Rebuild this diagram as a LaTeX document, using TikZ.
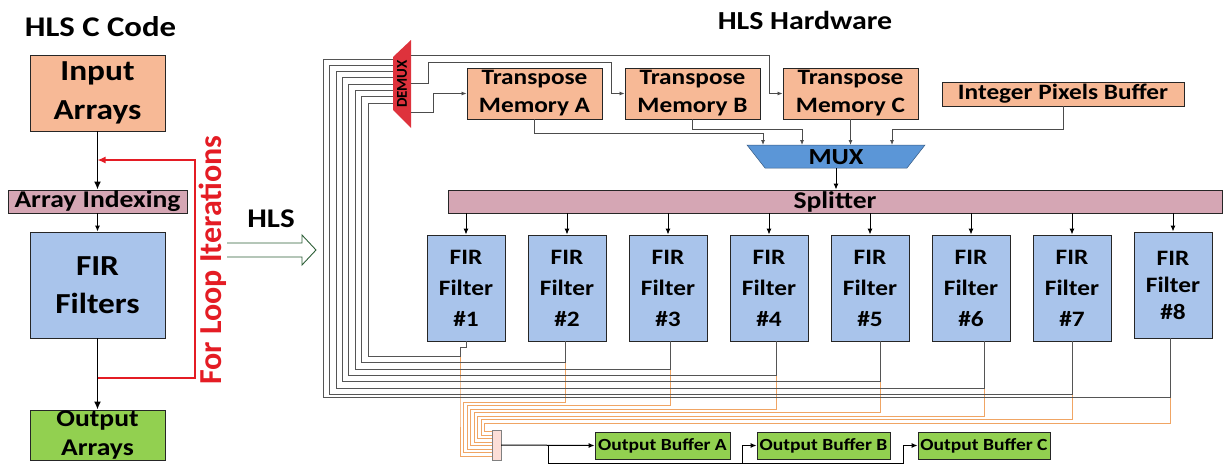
\documentclass[tikz,border=0pt]{standalone}
\usepackage{fontspec}
\setmainfont{Carlito}[FakeStretch=1.15]
\newfontfamily\rotfont{Carlito}
\usetikzlibrary{arrows.meta, calc}
\definecolor{inputc}{RGB}{247,185,150}
\definecolor{indexc}{RGB}{213,166,180}
\definecolor{firc}{RGB}{169,196,235}
\definecolor{outc}{RGB}{146,208,80}
\definecolor{loopred}{RGB}{228,28,36}
\definecolor{hlsgreen}{RGB}{45,95,55}
\definecolor{demuxc}{RGB}{222,50,60}
\definecolor{muxc}{RGB}{91,150,215}
\definecolor{orangeline}{RGB}{240,165,100}
\definecolor{fbgray}{RGB}{85,85,85}
\definecolor{collc}{RGB}{252,222,215}
\newcommand{\fsz}[2]{\fontsize{#1}{#2}\selectfont\bfseries}

\begin{document}
\begin{tikzpicture}[x=1pt, y=-1pt,
    box/.style={draw=black!85, line width=0.9pt, inner sep=0pt, align=center},
    title/.style={font=\fsz{28.5}{30}},
    conn/.style={line width=1.6pt, -{Latex[length=8pt,width=7pt]}},
    smallconn/.style={line width=1pt, -{Latex[length=6pt,width=5pt]}},
    thinconn/.style={line width=0.8pt, draw=black!70, -{Latex[length=5pt,width=4pt]}},
    fbline/.style={line width=0.8pt, draw=fbgray},
    outline/.style={line width=0.8pt, draw=orangeline},
  ]
  \useasboundingbox (0,0) rectangle (1227,466);

  % HLS C code
  \node[title] (ctitle) at (100.5,27) {HLS C Code};
  \node[box, fill=inputc, minimum width=135pt, minimum height=76pt, font=\fsz{29}{39}] (inarr) at (97.5,93) {Input\\Arrays};
  \node[box, fill=indexc, minimum width=179pt, minimum height=23pt, font=\fsz{24}{25}] (aidx) at (97.5,201.5) {Array Indexing};
  \node[box, fill=firc, minimum width=135pt, minimum height=106pt, font=\fsz{29}{38}] (firl) at (97.5,285) {FIR\\Filters};
  \node[box, fill=outc, minimum width=135pt, minimum height=50pt, font=\fsz{24}{29}] (outarr) at (97.5,435) {Output\\Arrays};
  \draw[conn] (inarr.south) -- (aidx.north);
  \draw[smallconn] (aidx.south) -- (firl.north);
  \draw[conn] (firl.south) -- (outarr.north);

  % loop
  \coordinate (lpb) at (195,378);
  \coordinate (lpt) at (195,160);
  \draw[loopred, line width=1.4pt, -{Latex[length=8pt,width=7pt]}] (firl.south |- lpb) -- (lpb) -- (lpt) -- (inarr.south |- lpt);
  \node[rotate=90, text=loopred, font=\rotfont\fsz{32}{34}] (looptxt) at (213,260) {For Loop Iterations};

  % HLS arrow
  \node[font=\fsz{27}{30}] (hlstxt) at (271,219) {HLS};
  \draw[hlsgreen, line width=0.9pt, fill=white] (227,243) -- (302,243) -- (302,235) -- (316,250) -- (302,265) -- (302,257) -- (227,257);

  % HLS hardware
  \node[font=\fsz{26}{28}] (hwtitle) at (805,20) {HLS Hardware};
  \fill[demuxc] (393,57) -- (411,40) -- (411,128) -- (393,110) -- cycle;
  \node[rotate=90, font=\rotfont\fsz{15}{16}] (demux) at (402,84) {DEMUX};
  \coordinate (dmin) at (393,84);
  \coordinate (dmout) at (411,84);

  \node[box, fill=inputc, minimum width=135pt, minimum height=51pt, font=\fsz{22}{28}] (tma) at (534.5,93.5) {Transpose\\Memory A};
  \node[box, fill=inputc, minimum width=135pt, minimum height=51pt, font=\fsz{22}{28}] (tmb) at (692.5,93.5) {Transpose\\Memory B};
  \node[box, fill=inputc, minimum width=135pt, minimum height=51pt, font=\fsz{22}{28}] (tmc) at (850.5,93.5) {Transpose\\Memory C};
  \node[box, fill=inputc, minimum width=242pt, minimum height=24pt, font=\fsz{22}{24}] (ipb) at (1063,94) {Integer Pixels Buffer};

  \draw[thinconn] ($(dmout)+(0,-29)$) -| ($(tmc.west)+(-13,0)$) -- (tmc.west);
  \draw[thinconn] ($(dmout)+(0,-1)$) -- ++(17,0) |- ($(tmb.west)+(-13,-31.5)$) |- (tmb.west);
  \draw[thinconn] ($(dmout)+(0,28)$) -- ++(22,0) |- (tma.west);

  % MUX
  \filldraw[fill=muxc, draw=muxc!60!black, line width=0.5pt] (747,145) -- (925,145) -- (907,168) -- (765,168) -- cycle;
  \node[font=\fsz{23}{24}] (mux) at (836,157) {MUX};
  \coordinate (mi1) at (763,145);
  \coordinate (mi2) at (802,145);
  \coordinate (mi3) at (850,145);
  \coordinate (mi4) at (892,145);
  \coordinate (muxout) at (836,168);
  \draw[thinconn] (tma.south) |- ($(mi1)+(0,-12)$) -- (mi1);
  \draw[thinconn] (tmb.south) |- ($(mi2)+(0,-16)$) -- (mi2);
  \draw[thinconn] (tmc.south) -- (tmc.south |- mi3);
  \draw[thinconn] (ipb.south) |- ($(mi4)+(0,-16)$) -- (mi4);

  \node[box, fill=indexc, minimum width=774pt, minimum height=23pt, font=\fsz{24}{25}] (spl) at (835,201.5) {Splitter};
  \draw[smallconn] (muxout) -- (muxout |- spl.north);

  % FIR filters
  \foreach \k in {1,...,7}
    \node[box, fill=firc, minimum width=78pt, minimum height=106pt, font=\fsz{22}{31}] (f\k) at ({466+101*(\k-1)},288) {FIR\\Filter\\\#\k};
  \node[box, fill=firc, minimum width=78pt, minimum height=106pt, font=\fsz{22}{27}] (f8) at (1173,285) {FIR\\Filter\\\#8};
  \foreach \k in {1,...,8}
    \draw[smallconn] (f\k.north |- spl.south) -- (f\k.north);

  % outputs
  \node[draw=black!50, fill=collc, minimum width=9pt, minimum height=30pt, inner sep=0pt] (coll) at (496.5,445) {};
  \node[box, fill=outc, minimum width=135pt, minimum height=27pt, font=\fsz{17}{18}] (oba) at (662.5,445.5) {Output Buffer A};
  \node[box, fill=outc, minimum width=133pt, minimum height=27pt, font=\fsz{17}{18}] (obb) at (823.5,445.5) {Output Buffer B};
  \node[box, fill=outc, minimum width=132pt, minimum height=27pt, font=\fsz{17}{18}] (obc) at (984,445.5) {Output Buffer C};

  \foreach \k/\dx in {1/-6, 2/-2, 3/2, 4/7, 5/10, 6/13, 7/0, 8/-3} {
    \pgfmathsetmacro\dyb{15+(\k-1)*6.3}
    \pgfmathsetmacro\xo{460+(\k-1)*3.5}
    \pgfmathsetmacro\yo{398.5+(\k-1)*3.5}
    \pgfmathsetmacro\yc{11-(\k-1)*3.5}
    \draw[outline] ($(f\k.south)+(\dx,\dyb)$) |- (\xo,\yo) |- ($(coll.west)+(0,\yc)$);
  }
  \draw[fbline] (f1.south) -- ++(0,6) -- ++(-6,0) -- ++(0,9) -| (368,103) -- ($(dmin)+(0,19)$);
  \foreach \k/\dx in {2/-2, 3/2, 4/7, 5/10, 6/13, 7/0, 8/-3} {
    \pgfmathsetmacro\dyb{15+(\k-1)*6.3}
    \pgfmathsetmacro\xk{368-(\k-1)*6.4}
    \pgfmathsetmacro\yd{19-(\k-1)*6.3}
    \draw[fbline] ($(f\k.south)+(\dx,0)$) -- ++(0,\dyb) -| (\xk,{84+\yd}) -- ($(dmin)+(0,\yd)$);
  }

  \draw[smallconn] (coll.east) -- (oba.west);
  \draw[smallconn] ($(coll.east)+(47,0)$) -- ++(0,18.5) -| ($(obb.west)+(-14,0)$) -- (obb.west);
  \draw[smallconn] ($(obb.west)+(-14,18)$) -| ($(obc.west)+(-14,0)$) -- (obc.west);
\end{tikzpicture}
\end{document}
